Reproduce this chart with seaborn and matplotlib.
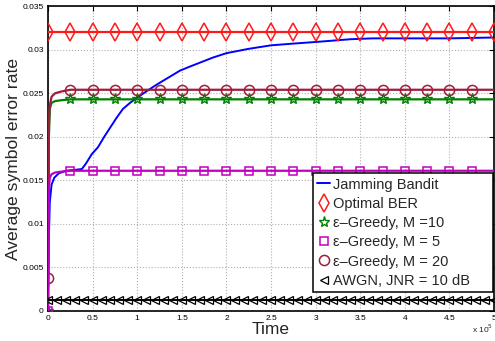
import matplotlib
matplotlib.use("Agg")
import matplotlib.pyplot as plt
from matplotlib.lines import Line2D
import seaborn as sns

# ---- data -----------------------------------------------------------------
# Jamming bandit learning curve
bandit_t = [0, 1000, 2000, 4000, 7000, 12000, 20000, 30000, 38000, 43000,
            49000, 56000, 63000, 70000, 77000, 84000, 92000, 100000, 110000,
            122000, 135000, 148000, 160000, 170000, 185000, 200000, 225000,
            250000, 275000, 302000, 339000, 364000, 400000, 450000, 500000]
bandit_v = [0.0, 0.0085, 0.0125, 0.0145, 0.0153, 0.0158, 0.0161, 0.0162,
            0.0163, 0.0170, 0.0180, 0.0188, 0.0200, 0.0211, 0.0222, 0.0232,
            0.0239, 0.0245, 0.0252, 0.0260, 0.0268, 0.0276, 0.0281, 0.0285,
            0.0291, 0.0296, 0.0301, 0.0305, 0.0307, 0.0309, 0.0312, 0.0313,
            0.0313, 0.0313, 0.0314]

# Optimal BER (constant), sampled every 25k steps
optimal_t = [i * 25000 for i in range(21)]
optimal_v = [0.032] * 21

# epsilon-greedy curves: dense early samples, then every 25k steps
greedy_t = [0, 1000, 2000, 4000, 8000, 15000] + [i * 25000 for i in range(1, 21)]
greedy_m10 = [0.0, 0.0200, 0.0232, 0.0239, 0.0241, 0.0242] + [0.0243] * 20
greedy_m5 = [0.0, 0.0140, 0.0153, 0.0157, 0.0159, 0.0160] + [0.0161] * 20
greedy_m20 = [0.0038, 0.0215, 0.0236, 0.0246, 0.0250, 0.0252] + [0.0254] * 20

# AWGN reference, sampled every 10k steps
awgn_t = [i * 10000 for i in range(51)]
awgn_v = [0.00126] * 51

labels = ["Jamming Bandit", "Optimal BER", "\u03b5\u2013Greedy, M =10",
          "\u03b5\u2013Greedy, M = 5", "\u03b5\u2013Greedy, M = 20",
          "AWGN, JNR = 10 dB"]

x_ticks = [i * 50000 for i in range(11)]
x_tick_labels = ["0", "0.5", "1", "1.5", "2", "2.5", "3", "3.5", "4", "4.5", "5"]
y_ticks = [0, 0.005, 0.01, 0.015, 0.02, 0.025, 0.03, 0.035]
y_tick_labels = ["0", "0.005", "0.01", "0.015", "0.02", "0.025", "0.03", "0.035"]

# ---- style ----------------------------------------------------------------
sns.set_theme(style="white")
plt.rcParams["font.family"] = ["Liberation Sans", "DejaVu Sans"]

c_blue = "#0000ff"
c_red = "#ff1a1a"
c_green = "#008000"
c_mag = "#c000c0"
c_dred = "#a01c3c"
c_black = "#000000"

sty = {
    "opt": dict(marker="d", ms=9.0, mew=1.1),
    "m10": dict(marker="*", ms=8, mew=1.0),
    "m5": dict(marker="s", ms=5.3, mew=1.1),
    "m20": dict(marker="o", ms=7.3, mew=1.1),
    "awgn": dict(marker="<", ms=5.5, mew=0.9),
}

fig = plt.figure(figsize=(4.95, 3.41), dpi=100)
ax = fig.add_axes([0.097, 0.088, 0.901, 0.894])

greedy_marks = [0] + list(range(6, len(greedy_t) - 1))


def draw(x, y, color, key=None, lw=1.6, **extra):
    kws = dict(ax=ax, color=color, lw=lw, estimator=None, sort=False, zorder=3)
    if key is not None:
        s = sty[key]
        kws.update(marker=s["marker"], markersize=s["ms"],
                   markerfacecolor="none", markeredgecolor=color,
                   markeredgewidth=s["mew"])
    kws.update(extra)
    sns.lineplot(x=x, y=y, **kws)


draw(bandit_t, bandit_v, c_blue, lw=1.4)
draw(optimal_t, optimal_v, c_red, "opt")
draw(greedy_t, greedy_m10, c_green, "m10", markevery=greedy_marks)
draw(greedy_t, greedy_m20, c_dred, "m20", markevery=greedy_marks)
draw(greedy_t, greedy_m5, c_mag, "m5", markevery=greedy_marks)
draw(awgn_t, awgn_v, c_black, "awgn", lw=1.4)

ax.set_xlim(0, 500000)
ax.set_ylim(0, 0.035)
ax.set_xticks(x_ticks)
ax.set_xticklabels(x_tick_labels)
ax.set_yticks(y_ticks)
ax.set_yticklabels(y_tick_labels)
ax.tick_params(direction="in", length=3.5, width=0.8, labelsize=6,
               top=True, right=True, pad=3, colors="black")
ax.grid(True, linestyle=":", color="#b0b0b0", linewidth=0.8)
for s in ax.spines.values():
    s.set_color("black")
    s.set_linewidth(1.2)
    s.set_visible(True)

ax.set_xlabel("Time", fontsize=12.5, labelpad=0)
ax.set_ylabel("Average symbol error rate", fontsize=12.6, labelpad=1)
ax.text(0.998, -0.037, "x 10$^5$", transform=ax.transAxes, ha="right",
        va="top", fontsize=6)

# legend: line sample for the bandit, markers only for the rest
handles = [Line2D([], [], color=c_blue, lw=1.4)]
for key, col in [("opt", c_red), ("m10", c_green), ("m5", c_mag),
                 ("m20", c_dred), ("awgn", c_black)]:
    s = sty[key]
    handles.append(Line2D([], [], color=col, ls="none", marker=s["marker"],
                          ms=s["ms"], mfc="none", mec=col, mew=s["mew"]))

leg = ax.legend(handles, labels, loc="upper left", mode="expand",
                bbox_to_anchor=(0.594, 0.066, 0.404, 0.386), fontsize=10.5,
                frameon=True, fancybox=False, framealpha=1,
                edgecolor="black", handlelength=0.85, handletextpad=0.25,
                labelspacing=0.36, borderpad=0.3, borderaxespad=0)
leg.get_frame().set_linewidth(1.1)
leg.set_zorder(5)

fig.savefig("out.png", dpi=100)
